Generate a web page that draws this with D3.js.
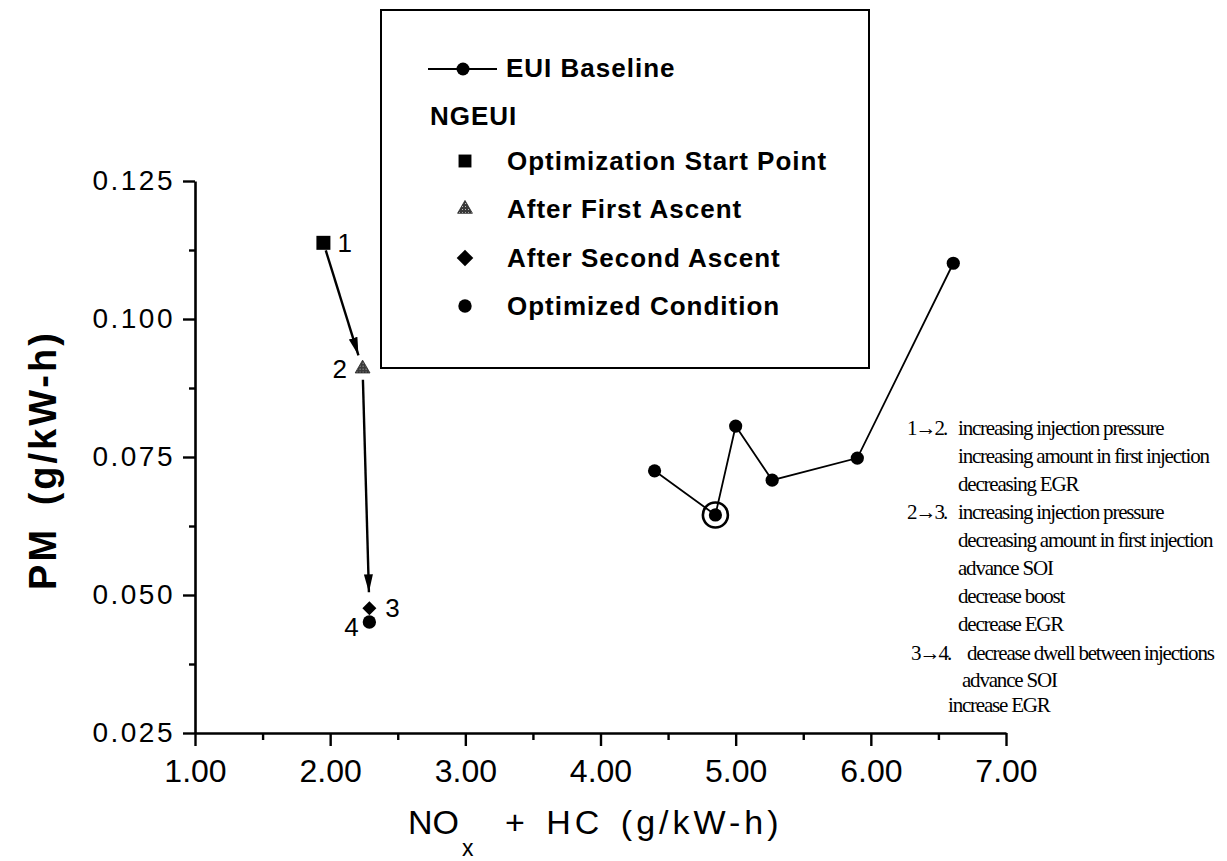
<!DOCTYPE html>
<html><head><meta charset="utf-8">
<script src="https://cdn.jsdelivr.net/npm/d3@7"></script>
<style>body{margin:0;background:#fff} svg{display:block}</style>
</head><body><svg id="c" width="1227" height="861"></svg>
<script>
// ---------------- data ----------------
const xTicks = [1, 2, 3, 4, 5, 6, 7];
const xTickLabels = ["1.00", "2.00", "3.00", "4.00", "5.00", "6.00", "7.00"];
const xMinorTicks = [1.5, 2.5, 3.5, 4.5, 5.5, 6.5];
const yTicks = [0.025, 0.05, 0.075, 0.1, 0.125];
const yTickLabels = ["0.025", "0.050", "0.075", "0.100", "0.125"];
const yMinorTicks = [0.0375, 0.0625, 0.0875, 0.1125];

const euiX = [4.40, 4.85, 5.00, 5.27, 5.90, 6.61];
const euiY = [0.0725, 0.0645, 0.0806, 0.0708, 0.0748, 0.1101];
const euiCircled = [1]; // index of circled baseline point

const ngeuiX = [1.95, 2.24, 2.29, 2.29];
const ngeuiY = [0.1138, 0.0910, 0.0476, 0.0451];
const ngeuiLabels = ["1", "2", "3", "4"];
const ngeuiNames = ["Optimization Start Point", "After First Ascent", "After Second Ascent", "Optimized Condition"];
const arrowsFromTo = [[0, 1], [1, 2]];

const xTitle = ["NO", "x", "+ HC (g/kW-h)"];
const yTitle = "PM (g/kW-h)";
const legendBaseline = "EUI Baseline";
const legendGroup = "NGEUI";

const noteSteps = ["1\u21922.", "2\u21923.", "3\u21924."];
const noteLines = [
  ["increasing injection pressure", "increasing amount in first injection", "decreasing EGR"],
  ["increasing injection pressure", "decreasing amount in first injection", "advance SOI", "decrease boost", "decrease EGR"],
  ["decrease dwell between injections", "advance SOI", "increase EGR"]
];

// ---------------- layout ----------------
const svg = d3.select("#c");
const SANS = "'Liberation Sans', Arial, Helvetica, sans-serif";
const SERIF = "'Liberation Serif', 'Times New Roman', serif";

const x = d3.scaleLinear().domain([1, 7]).range([195, 1006]);
const y = d3.scaleLinear().domain([0.025, 0.125]).range([733, 181]);

// defs
const defs = svg.append("defs");
defs.append("marker").attr("id", "ah")
  .attr("markerUnits", "userSpaceOnUse")
  .attr("viewBox", "0 -5 18 10").attr("refX", 18).attr("refY", 0)
  .attr("markerWidth", 18).attr("markerHeight", 10).attr("orient", "auto")
  .append("path").attr("d", "M0,-4.5L18,0L0,4.5Z").attr("fill", "#000");
const pat = defs.append("pattern").attr("id", "hatch").attr("patternUnits", "userSpaceOnUse")
  .attr("width", 3).attr("height", 3);
pat.append("rect").attr("width", 3).attr("height", 3).attr("fill", "#3a3a3a");
pat.append("rect").attr("width", 1).attr("height", 1).attr("fill", "#bbb");

// axes
const yAxis = svg.append("g").attr("transform", `translate(${x(1)},0)`)
  .call(d3.axisLeft(y).tickValues(yTicks).tickFormat((d, i) => yTickLabels[i]).tickSize(12).tickSizeOuter(0).tickPadding(8));
svg.append("g").attr("transform", `translate(${x(1)},0)`)
  .call(d3.axisLeft(y).tickValues(yMinorTicks).tickFormat("").tickSize(6).tickSizeOuter(0))
  .select(".domain").remove();
const xAxis = svg.append("g").attr("transform", `translate(0,${y(0.025)})`)
  .call(d3.axisBottom(x).tickValues(xTicks).tickFormat((d, i) => xTickLabels[i]).tickSize(13).tickSizeOuter(0).tickPadding(6));
svg.append("g").attr("transform", `translate(0,${y(0.025)})`)
  .call(d3.axisBottom(x).tickValues(xMinorTicks).tickFormat("").tickSize(7).tickSizeOuter(0))
  .select(".domain").remove();

svg.selectAll(".domain").attr("stroke", "#000").attr("stroke-width", 2.6);
svg.selectAll(".tick line").attr("stroke", "#000").attr("stroke-width", 2.4);
yAxis.selectAll(".tick text").attr("font-family", SANS).attr("font-size", 28)
  .attr("letter-spacing", "2.5px").attr("fill", "#000").attr("dy", "0.3em");
xAxis.selectAll(".tick text").attr("font-family", SANS).attr("font-size", 32)
  .attr("fill", "#000").attr("dy", "0.95em");

// axis titles
const xt = svg.append("g").attr("font-family", SANS).attr("fill", "#000");
xt.append("text").attr("x", 408).attr("y", 834).attr("font-size", 34).text(xTitle[0]);
xt.append("text").attr("x", 462).attr("y", 856).attr("font-size", 23).text(xTitle[1]);
xt.append("text").attr("x", 505).attr("y", 834).attr("font-size", 34)
  .attr("letter-spacing", "4px").attr("word-spacing", "4px").text(xTitle[2]);

svg.append("text").attr("transform", "translate(56,460) rotate(-90)")
  .attr("text-anchor", "middle").attr("font-family", SANS).attr("font-weight", "bold")
  .attr("font-size", 38).attr("letter-spacing", "3px").attr("word-spacing", "8px")
  .attr("fill", "#000").text(yTitle);

// EUI baseline line + points
const euiPts = euiX.map((v, i) => [x(v), y(euiY[i])]);
svg.append("path").attr("d", d3.line()(euiPts)).attr("fill", "none")
  .attr("stroke", "#000").attr("stroke-width", 1.8);
svg.selectAll(".eui").data(euiPts).enter().append("circle")
  .attr("cx", d => d[0]).attr("cy", d => d[1]).attr("r", 6.6).attr("fill", "#000");
svg.selectAll(".ring").data(euiCircled).enter().append("circle")
  .attr("cx", i => euiPts[i][0]).attr("cy", i => euiPts[i][1]).attr("r", 12.5)
  .attr("fill", "none").attr("stroke", "#000").attr("stroke-width", 2.6);

// NGEUI markers
const symTypes = [d3.symbolSquare, d3.symbolTriangle, d3.symbolSquare, d3.symbolCircle];
const symSizes = [196, 95, 98, 140];
const symRot = [0, 0, 45, 0];
const symFill = ["#000", "url(#hatch)", "#000", "#000"];
function drawSym(g, i, cx, cy, scale) {
  g.append("path")
    .attr("d", d3.symbol().type(symTypes[i]).size(symSizes[i] * scale)())
    .attr("transform", `translate(${cx},${cy}) rotate(${symRot[i]})`)
    .attr("fill", symFill[i]).attr("stroke", i === 1 ? "#222" : "none").attr("stroke-width", 0.8);
}
const ngPts = ngeuiX.map((v, i) => [x(v), y(ngeuiY[i])]);
ngPts.forEach((p, i) => drawSym(svg, i, p[0], p[1], 1));

// point number labels
const labOff = [[14, 9], [-30, 9], [16, 9], [-25, 14]];
svg.selectAll(".nlab").data(ngeuiLabels).enter().append("text")
  .attr("x", (d, i) => ngPts[i][0] + labOff[i][0]).attr("y", (d, i) => ngPts[i][1] + labOff[i][1])
  .attr("font-family", SANS).attr("font-size", 26).attr("fill", "#000").text(d => d);

// arrows
const shorten = [[8, 14], [11, 16]];
arrowsFromTo.forEach((ft, k) => {
  const a = ngPts[ft[0]], b = ngPts[ft[1]];
  const dx = b[0] - a[0], dy = b[1] - a[1], L = Math.hypot(dx, dy);
  const ux = dx / L, uy = dy / L;
  svg.append("line")
    .attr("x1", a[0] + ux * shorten[k][0]).attr("y1", a[1] + uy * shorten[k][0])
    .attr("x2", b[0] - ux * shorten[k][1]).attr("y2", b[1] - uy * shorten[k][1])
    .attr("stroke", "#000").attr("stroke-width", 2.4).attr("marker-end", "url(#ah)");
});

// legend
const lg = svg.append("g");
lg.append("rect").attr("x", 381).attr("y", 10).attr("width", 488).attr("height", 358)
  .attr("fill", "#fff").attr("stroke", "#000").attr("stroke-width", 2);
lg.append("line").attr("x1", 428).attr("x2", 497).attr("y1", 69).attr("y2", 69)
  .attr("stroke", "#000").attr("stroke-width", 2);
lg.append("circle").attr("cx", 463).attr("cy", 69).attr("r", 6.5).attr("fill", "#000");
lg.append("text").attr("x", 506).attr("y", 77).attr("font-family", SANS).attr("font-weight", "bold")
  .attr("font-size", 26).attr("letter-spacing", "1px").attr("fill", "#000").text(legendBaseline);
lg.append("text").attr("x", 430).attr("y", 125).attr("font-family", SANS).attr("font-weight", "bold")
  .attr("font-size", 26).attr("letter-spacing", "1px").attr("fill", "#000").text(legendGroup);
const legY = [170, 218, 267, 315];
ngeuiNames.forEach((nm, i) => {
  drawSym(lg, i, 465, legY[i] - 9, i === 2 ? 1.4 : (i === 0 ? 0.85 : 1));
  lg.append("text").attr("x", 507).attr("y", legY[i]).attr("font-family", SANS).attr("font-weight", "bold")
    .attr("font-size", 26).attr("letter-spacing", "1px").attr("fill", "#000").text(nm);
});

// notes
const nt = svg.append("g").attr("font-family", SERIF).attr("font-size", 21)
  .attr("letter-spacing", "-1.2px").attr("fill", "#000");
const stepX = [907, 907, 911];
const bodyX = [[958, 958, 958], [958, 958, 958, 958, 958], [967, 962, 948]];
const bodyY = [[435, 463, 491], [519, 547, 575, 603, 631], [660, 687, 712]];
noteSteps.forEach((s, g) => {
  nt.append("text").attr("x", stepX[g]).attr("y", bodyY[g][0]).attr("letter-spacing", "-2px").text(s);
  noteLines[g].forEach((ln, j) => {
    nt.append("text").attr("x", bodyX[g][j]).attr("y", bodyY[g][j]).text(ln);
  });
});
</script></body></html>
